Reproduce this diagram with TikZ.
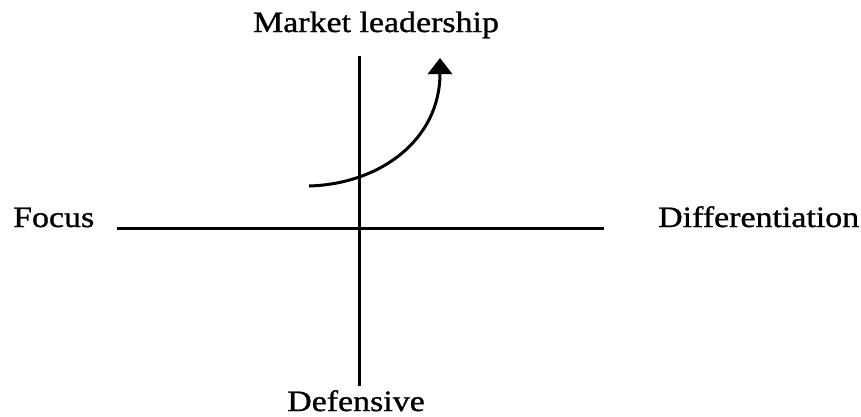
\documentclass[tikz,border=0pt]{standalone}
\usepackage{fontspec}
\setmainfont[FakeStretch=1.15,FakeBold=1]{Liberation Serif}
\usepackage{tikz}
\usetikzlibrary{arrows.meta}

\begin{document}
\begin{tikzpicture}[x=1pt,y=-1pt,
  axis/.style={line width=3pt},
  lbl/.style={font=\fontsize{29.5}{36}\selectfont,anchor=base,inner sep=0pt}]
\useasboundingbox (0,0) rectangle (861,416);
% axes
\coordinate (top) at (359,56);
\coordinate (bot) at (359,386);
\coordinate (lft) at (117,228);
\coordinate (rgt) at (604,228);
\draw[axis] (top)--(bot);
\draw[axis] (lft)--(rgt);
% labels
\node[lbl] (lead) at (376,32) {Market leadership};
\node[lbl,anchor=base west] (focus) at (13,227) {Focus};
\node[lbl,anchor=base west] (diff) at (658,227) {Differentiation};
\node[lbl] (def) at (356,411) {Defensive};
% growth path
\coordinate (start) at (309,186);
\coordinate (tip) at (440,58);
\draw[axis,-{Triangle[width=24pt,length=16pt]}] (start) .. controls (380,184) and (440,140) .. (tip);
\end{tikzpicture}
\end{document}
